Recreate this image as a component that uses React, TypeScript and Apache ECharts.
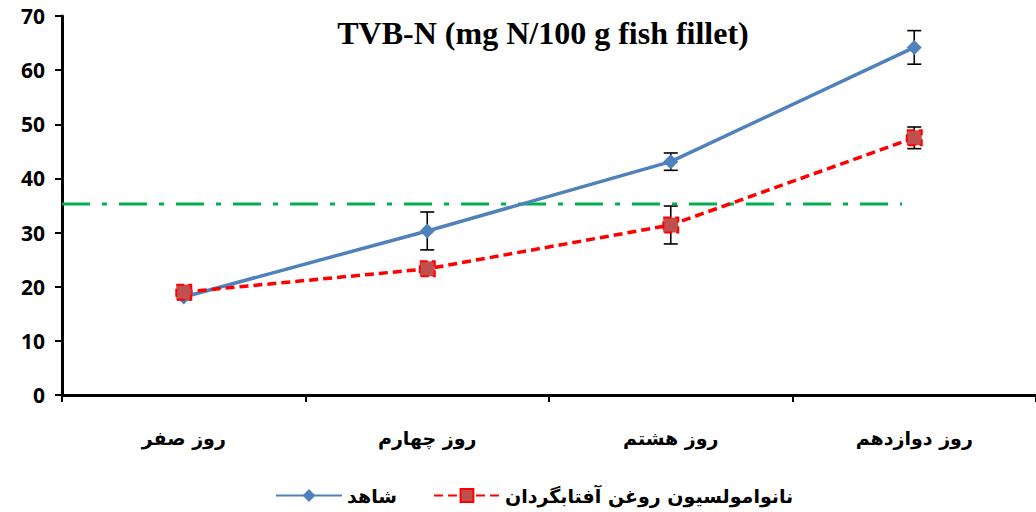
import React, { useEffect, useRef } from "react";
import * as echarts from "echarts";

const categories = ["روز صفر", "روز چهارم", "روز هشتم", "روز دوازدهم"];
const controlName = "شاهد";
const nanoName = "نانوامولسیون روغن آفتابگردان";
const controlValues = [18.1, 30.3, 43.1, 64.2];
const controlErr = [0.5, 3.5, 1.6, 3.1];
const nanoValues = [19.0, 23.3, 31.4, 47.5];
const nanoErr = [0.6, 0.7, 3.5, 2.0];
const thresholdValue = 35.3;
const thresholdEnd = 2.95;
const yTicks = [0, 10, 20, 30, 40, 50, 60, 70];

export default function App() {
  const ref = useRef<HTMLDivElement>(null);
  useEffect(() => {
    const chart = echarts.init(ref.current!, null, { renderer: "svg" });
    const errData = (vals: number[], errs: number[]) =>
      vals.map((v, i) => [i, v, errs[i]]);
    const errSeries = (name: string, vals: number[], errs: number[]) => ({
      type: "custom",
      name: name + "_err",
      xAxisIndex: 0,
      yAxisIndex: 0,
      z: 1,
      silent: true,
      data: errData(vals, errs),
      renderItem: (params: any, api: any) => {
        const x = api.value(0);
        const y = api.value(1);
        const e = api.value(2);
        const top = api.coord([x, y + e]);
        const bot = api.coord([x, y - e]);
        const w = 7;
        const style = { stroke: "#000", lineWidth: 1.6 };
        return {
          type: "group",
          children: [
            { type: "line", shape: { x1: top[0], y1: top[1], x2: bot[0], y2: bot[1] }, style },
            { type: "line", shape: { x1: top[0] - w, y1: top[1], x2: top[0] + w, y2: top[1] }, style },
            { type: "line", shape: { x1: bot[0] - w, y1: bot[1], x2: bot[0] + w, y2: bot[1] }, style },
          ],
        };
      },
    });
    chart.setOption({
      animation: false,
      backgroundColor: "#fff",
      title: {
        text: "TVB-N (mg N/100 g fish fillet)",
        left: 538,
        textAlign: "center",
        top: 12,
        textStyle: {
          fontFamily: "Liberation Serif",
          fontWeight: "bold",
          fontSize: 32,
          color: "#000",
        },
      },
      legend: {
        bottom: 2,
        left: 270,
        itemGap: 36,
        itemWidth: 66,
        itemHeight: 16,
        data: [controlName, nanoName],
        textStyle: {
          fontFamily: "DejaVu Sans",
          fontWeight: "bold",
          fontSize: 19,
          color: "#000",
        },
      },
      grid: { left: 62, right: -10, top: 16, bottom: 117, containLabel: false },
      xAxis: [
        {
          type: "category",
          data: categories,
          boundaryGap: true,
          axisLine: { lineStyle: { color: "#000", width: 3 } },
          axisTick: { show: true, length: 7, inside: false, lineStyle: { color: "#000", width: 2 } },
          axisLabel: {
            margin: 33,
            fontFamily: "DejaVu Sans",
            fontWeight: "bold",
            fontSize: 19,
            color: "#000",
          },
          splitLine: { show: false },
        },
        {
          type: "value",
          min: -0.5,
          max: 3.5,
          show: false,
        },
      ],
      yAxis: {
        type: "value",
        min: 0,
        max: 70,
        interval: 10,
        axisLine: { show: true, onZero: false, lineStyle: { color: "#000", width: 3 } },
        axisTick: { show: true, length: 7, lineStyle: { color: "#000", width: 2 } },
        axisLabel: {
          margin: 17,
          fontFamily: "Open Sans",
          fontWeight: "bold",
          fontSize: 21,
          color: "#000",
          formatter: (v: number) => (yTicks.includes(v) ? String(v) : ""),
        },
        splitLine: { show: false },
      },
      series: [
        {
          type: "line",
          name: "threshold",
          xAxisIndex: 1,
          yAxisIndex: 0,
          data: [
            [-0.5, thresholdValue],
            [thresholdEnd, thresholdValue],
          ],
          symbol: "none",
          silent: true,
          z: 1,
          lineStyle: { color: "#00B050", width: 3, type: [28, 12, 5, 12] },
        },
        errSeries(controlName, controlValues, controlErr),
        errSeries(nanoName, nanoValues, nanoErr),
        {
          type: "line",
          name: controlName,
          data: controlValues,
          symbol: "diamond",
          symbolSize: 15,
          z: 3,
          itemStyle: { color: "#4F81BD" },
          lineStyle: { color: "#4F81BD", width: 3.5 },
        },
        {
          type: "line",
          name: nanoName,
          data: nanoValues,
          symbol: "rect",
          symbolSize: 15,
          z: 4,
          itemStyle: { color: "#C0504D", borderColor: "#FF0000", borderWidth: 2, borderType: "dashed" },
          lineStyle: { color: "#FF0000", width: 3.5, type: [9, 5] },
        },
      ],
    });
    return () => chart.dispose();
  }, []);
  return (
    <div
      ref={ref}
      style={{ position: "absolute", left: 0, top: 0, width: 1036, height: 512 }}
    />
  );
}
